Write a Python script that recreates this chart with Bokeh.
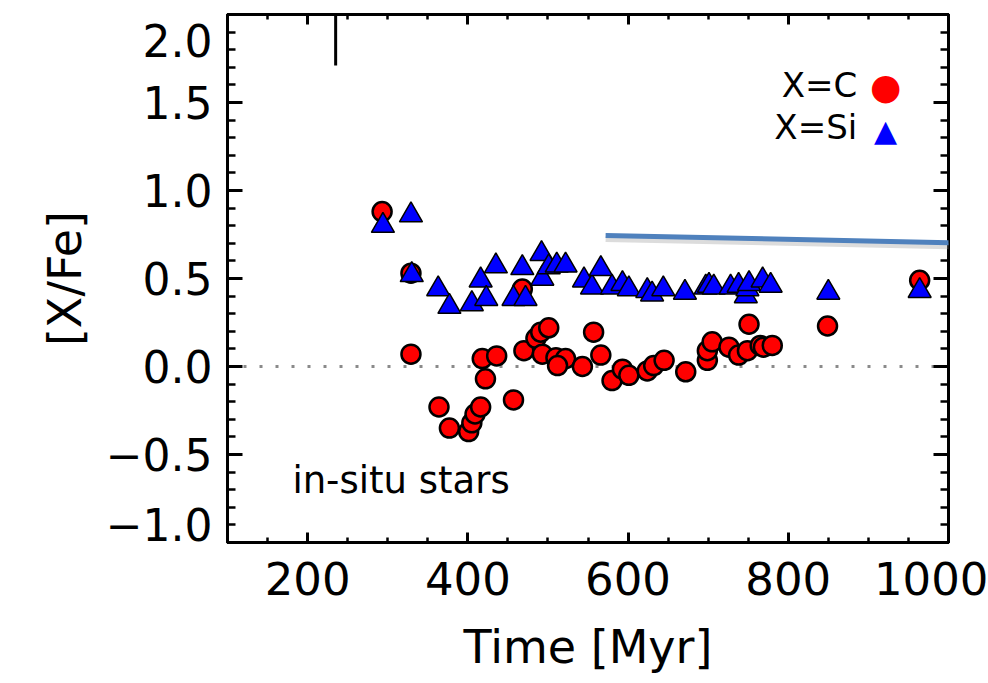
import numpy as np
from bokeh.plotting import figure
from bokeh.models import (LinearAxis, Range1d, Span, Label, Arrow, FixedTicker,
                          PrintfTickFormatter)
from bokeh.embed import file_html
from bokeh.resources import INLINE

# ---- data ----
time_c = [293, 329, 329, 364, 377, 401, 405, 409, 416, 422, 418, 436, 457, 468, 470,
          485, 491, 501, 493, 510, 522, 512, 543, 557, 566, 580, 593, 601, 624, 632,
          645, 672, 699, 699, 705, 726, 738, 749, 751, 765, 769, 780, 849, 964]
xfe_c = [0.88, 0.53, 0.07, -0.23, -0.35, -0.37, -0.32, -0.27, -0.23, -0.07, 0.045, 0.06,
         -0.19, 0.44, 0.09, 0.16, 0.195, 0.22, 0.07, 0.05, 0.045, 0.005, 0.0, 0.195,
         0.065, -0.08, -0.015, -0.05, -0.025, 0.005, 0.035, -0.03, 0.035, 0.09, 0.14,
         0.11, 0.065, 0.09, 0.24, 0.12, 0.11, 0.12, 0.23, 0.49]

time_si = [294, 329, 330, 363, 377, 405, 416, 423, 435, 457, 468, 472, 492, 493, 501,
           511, 522, 545, 555, 566, 580, 593, 601, 624, 630, 644, 671, 697, 701, 707,
           728, 738, 747, 749, 751, 768, 778, 850, 964]
xfe_si = [0.80, 0.86, 0.52, 0.44, 0.34, 0.355, 0.49, 0.385, 0.57, 0.385, 0.56, 0.385,
          0.64, 0.50, 0.565, 0.575, 0.575, 0.49, 0.45, 0.555, 0.45, 0.47, 0.44, 0.43,
          0.41, 0.44, 0.42, 0.45, 0.46, 0.45, 0.45, 0.46, 0.40, 0.44, 0.47, 0.49, 0.46,
          0.42, 0.43]

x_ticks = [200, 400, 600, 800, 1000]
y_ticks = [-1.0, -0.5, 0.0, 0.5, 1.0, 1.5, 2.0]
# where the y tick labels sit (the two end labels are drawn slightly inside the frame)
y_label_pos = [-0.9, -0.5, 0.0, 0.5, 1.0, 1.5, 1.85]
y_label_txt = ["\u22121.0", "\u22120.5", "0.0", "0.5", "1.0", "1.5", "2.0"]

# short vertical mark hanging from the top axis
mark_time = [235]
mark_top = [2.0]
mark_bottom = [1.71]

# overlaid pointer line (slide annotation)
pointer_x = [572, 1050]
pointer_y = [0.744, 0.699]

FONT = "DejaVu Sans"

p = figure(width=988, height=683, x_range=Range1d(100, 1000), y_range=Range1d(-1.0, 2.0),
           output_backend="svg", toolbar_location=None,
           min_border_left=227, min_border_right=40, min_border_top=14, min_border_bottom=141,
           background_fill_color="white", border_fill_color="white")
p.xgrid.visible = False
p.ygrid.visible = False
p.outline_line_color = "black"
p.outline_line_width = 3

xt = FixedTicker(ticks=x_ticks, minor_ticks=list(np.arange(100, 1001, 50)))
yt = FixedTicker(ticks=y_ticks, minor_ticks=list(np.round(np.arange(-1.0, 2.01, 0.1), 2)))


def tick_style(ax, major, minor):
    ax.axis_line_color = "black"
    ax.axis_line_width = 3
    ax.major_tick_in = major
    ax.major_tick_out = 0
    ax.minor_tick_in = minor
    ax.minor_tick_out = 0
    ax.major_tick_line_width = 3
    ax.minor_tick_line_width = 2.5
    ax.major_tick_line_color = "black"
    ax.minor_tick_line_color = "black"


def hide_labels(ax):
    ax.major_label_text_font_size = "1px"
    ax.major_label_text_color = None
    ax.major_label_standoff = 0


# bottom axis: ticks + labels
xa = p.xaxis[0]
xa.ticker = xt
tick_style(xa, 10, 5)
xa.major_label_text_font = FONT
xa.major_label_text_font_size = "45px"
xa.major_label_text_color = "black"
xa.major_label_standoff = 19
xa.axis_label = "Time [Myr]"
xa.axis_label_text_font = FONT
xa.axis_label_text_font_size = "46px"
xa.axis_label_text_font_style = "normal"
xa.axis_label_text_color = "black"
xa.axis_label_standoff = 22

# left axis (next to the frame): ticks only
ya = p.yaxis[0]
ya.ticker = yt
tick_style(ya, 15, 8)
hide_labels(ya)

# second left axis: tick labels and axis title only
ylab = LinearAxis(ticker=FixedTicker(ticks=y_label_pos, minor_ticks=[]),
                  formatter=PrintfTickFormatter(format="%.1f"))
ylab.axis_line_color = None
ylab.major_tick_line_color = None
ylab.minor_tick_line_color = None
ylab.major_tick_in = 0
ylab.major_tick_out = 0
ylab.major_label_text_font = FONT
ylab.major_label_text_font_size = "44px"
ylab.major_label_text_color = "black"
ylab.major_label_standoff = 15
ylab.major_label_overrides = dict(zip(y_label_pos, y_label_txt))
ylab.axis_label = "[X/Fe]"
ylab.axis_label_text_font = FONT
ylab.axis_label_text_font_size = "46px"
ylab.axis_label_text_font_style = "normal"
ylab.axis_label_text_color = "black"
ylab.axis_label_standoff = 11
p.add_layout(ylab, "left")

# top and right axes: inward ticks only
top_ax = LinearAxis(ticker=xt)
tick_style(top_ax, 10, 5)
hide_labels(top_ax)
p.add_layout(top_ax, "above")
right_ax = LinearAxis(ticker=yt)
tick_style(right_ax, 15, 8)
hide_labels(right_ax)
p.add_layout(right_ax, "right")

# zero line
p.add_layout(Span(location=0, dimension="width", line_color="#8a8a8a", line_width=3,
                  line_dash="3 13", level="underlay"))

# vertical mark at top
p.segment(x0=mark_time, y0=mark_top, x1=mark_time, y1=mark_bottom,
          line_color="black", line_width=3)

# data
p.scatter(time_c, xfe_c, marker="circle", size=19, fill_color="#ff0000",
          line_color="black", line_width=2.5)
p.scatter(time_si, xfe_si, marker="triangle", size=23, fill_color="#0000ff",
          line_color="black", line_width=1.5)

# legend (text then symbol, as in the original)
p.add_layout(Label(x=886, y=1.597, text="X=C", text_align="right", text_baseline="middle",
                   text_font=FONT, text_font_size="34px", text_color="black"))
p.add_layout(Label(x=886, y=1.36, text="X=Si", text_align="right", text_baseline="middle",
                   text_font=FONT, text_font_size="34px", text_color="black"))
p.add_layout(Label(x=921.5, y=1.59, text="\u25cf", text_align="center", text_baseline="middle",
                   text_font=FONT, text_font_size="36px", text_color="#ff0000"))
p.add_layout(Label(x=921.5, y=1.34, text="\u25b2", text_align="center", text_baseline="middle",
                   text_font=FONT, text_font_size="30px", text_color="#0000ff"))

p.add_layout(Label(x=181, y=-0.648, text="in-situ stars", text_align="left",
                   text_baseline="alphabetic", text_font=FONT,
                   text_font_size="37px", text_color="black"))

# pointer line with a soft shadow
p.add_layout(Arrow(end=None, x_start=pointer_x[0], y_start=pointer_y[0] - 0.02,
                   x_end=pointer_x[1], y_end=pointer_y[1] - 0.02,
                   line_color="#9a9a9a", line_alpha=0.35, line_width=6))
p.add_layout(Arrow(end=None, x_start=pointer_x[0], y_start=pointer_y[0],
                   x_end=pointer_x[1], y_end=pointer_y[1],
                   line_color="#4f81bd", line_width=5))

open("out.html", "w").write(file_html(p, INLINE))
